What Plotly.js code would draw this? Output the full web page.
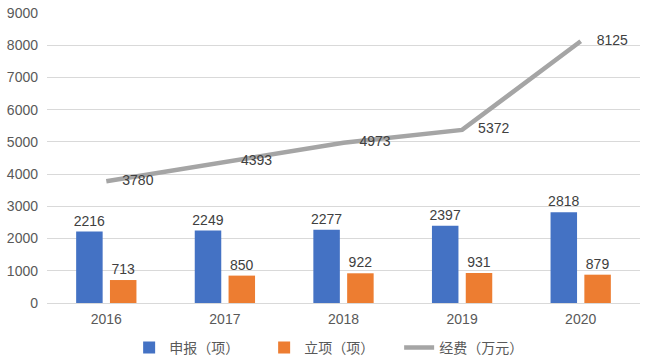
<!DOCTYPE html>
<html>
<head>
<meta charset="utf-8">
<script src="https://cdn.plot.ly/plotly-3.0.1.min.js"></script>
<style>html,body{margin:0;padding:0;background:#fff;}#chart{width:646px;height:361px;}</style>
</head>
<body>
<div id="chart"></div>
<script>
var years = ['2016', '2017', '2018', '2019', '2020'];
var shenbao = [2216, 2249, 2277, 2397, 2818];
var lixiang = [713, 850, 922, 931, 879];
var jingfei = [3780, 4393, 4973, 5372, 8125];
var seriesNames = ['申报（项）', '立项（项）', '经费（万元）'];
var yTicks = [0, 1000, 2000, 3000, 4000, 5000, 6000, 7000, 8000, 9000];

var numFont = {family: 'Liberation Sans, Arial, sans-serif', size: 14, color: '#404040'};

var traces = [
  {type: 'bar', x: years, y: shenbao, name: seriesNames[0],
   marker: {color: '#4472C4'}, text: shenbao.map(String), textposition: 'outside',
   constraintext: 'none', textfont: numFont, cliponaxis: false, hoverinfo: 'none'},
  {type: 'bar', x: years, y: lixiang, name: seriesNames[1],
   marker: {color: '#ED7D31'}, text: lixiang.map(String), textposition: 'outside',
   constraintext: 'none', textfont: numFont, cliponaxis: false, hoverinfo: 'none'},
  {type: 'scatter', mode: 'lines+markers+text', x: years, y: jingfei, name: seriesNames[2],
   line: {color: '#A5A5A5', width: 4.5},
   marker: {size: 24, color: 'rgba(0,0,0,0)'},
   text: jingfei.map(String), textposition: 'middle right', textfont: numFont,
   cliponaxis: false, hoverinfo: 'none'}
];

var layout = {
  width: 646, height: 361,
  margin: {l: 47, r: 6, t: 13, b: 58, autoexpand: false},
  paper_bgcolor: '#ffffff', plot_bgcolor: '#ffffff',
  font: {family: 'Liberation Sans, Noto Sans CJK SC, sans-serif', color: '#595959', size: 14},
  barmode: 'group', bargap: 0.43, bargroupgap: 0.216,
  showlegend: true,
  legend: {orientation: 'h', x: 0.48, xanchor: 'center', y: -0.1, yanchor: 'top',
           font: {family: 'Noto Sans CJK SC, sans-serif', size: 14, color: '#595959'},
           itemwidth: 30, entrywidth: 90, traceorder: 'normal'},
  xaxis: {type: 'category', showgrid: false, showline: false, zeroline: false,
          ticks: '', ticklabelstandoff: 6, tickfont: {size: 14, color: '#595959'}},
  yaxis: {range: [0, 9000], tickvals: yTicks, ticktext: yTicks.map(String),
          showgrid: true, gridcolor: '#D9D9D9', gridwidth: 1, zeroline: true,
          zerolinecolor: '#D9D9D9', zerolinewidth: 1, showline: false, ticks: '',
          ticklabelstandoff: 8, tickfont: {size: 14, color: '#595959'}}
};

Plotly.newPlot('chart', traces, layout, {staticPlot: true});
</script>
</body>
</html>
